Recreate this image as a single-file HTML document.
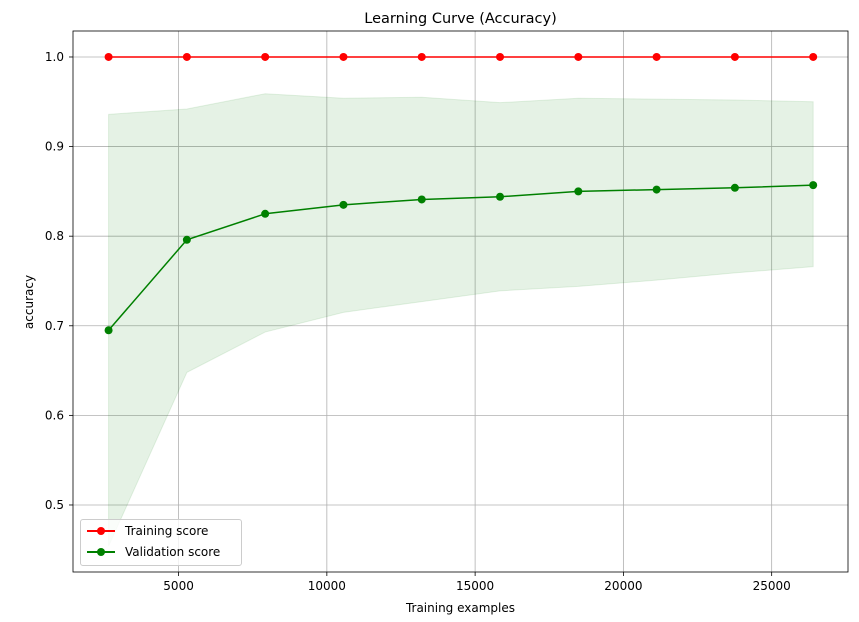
<!DOCTYPE html>
<html><head><meta charset="utf-8"><style>
body{margin:0;background:#fff;font-family:"Liberation Sans","DejaVu Sans",sans-serif}
svg text{font-family:"DejaVu Sans","Liberation Sans",sans-serif}
</style></head><body>
<svg id="c" width="859" height="617"></svg>
<script>
const trainSizes=[2640,5280,7920,10560,13200,15840,18480,21120,23760,26400];
const trainScore=[1,1,1,1,1,1,1,1,1,1];
const valScore=[0.695,0.796,0.825,0.835,0.841,0.844,0.850,0.852,0.854,0.857];
const valUpper=[0.936,0.942,0.959,0.954,0.955,0.949,0.954,0.953,0.952,0.950];
const valLower=[0.454,0.648,0.693,0.715,0.727,0.739,0.744,0.751,0.759,0.766];
const xTicks=[5000,10000,15000,20000,25000];
const yTicks=[0.5,0.6,0.7,0.8,0.9,1.0];
const L=73,R=848,T=31,B=572;
const xMin=1440,xMax=27574,yMin=0.4252,yMax=1.0290;
const X=v=>L+(v-xMin)/(xMax-xMin)*(R-L);
const Y=v=>B-(v-yMin)/(yMax-yMin)*(B-T);
const svg=document.getElementById('c');
const NS='http://www.w3.org/2000/svg';
function mk(tag,attrs,parent){const e=document.createElementNS(NS,tag);for(const k in attrs)e.setAttribute(k,attrs[k]);(parent||svg).appendChild(e);return e;}
xTicks.forEach(t=>{const l=mk('line',{x1:X(t),x2:X(t),y1:T,y2:B,stroke:'#b0b0b0','stroke-width':0.8});

});
yTicks.forEach(t=>{const l=mk('line',{x1:L,x2:R,y1:Y(t),y2:Y(t),stroke:'#b0b0b0','stroke-width':0.8});

});
let pts=trainSizes.map((s,i)=>X(s)+','+Y(valUpper[i]));
pts=pts.concat(trainSizes.slice().reverse().map((s,j)=>{const i=trainSizes.length-1-j;return X(s)+','+Y(valLower[i]);}));
const band=mk('polygon',{points:pts.join(' '),fill:'rgba(0,128,0,0.1)',stroke:'rgba(0,128,0,0.1)'});


function series(vals,color,name){
 const p=mk('polyline',{points:trainSizes.map((s,i)=>X(s)+','+Y(vals[i])).join(' '),fill:'none',stroke:color,'stroke-width':1.5});
 
 
 trainSizes.forEach((s,i)=>{const c=mk('circle',{cx:X(s),cy:Y(vals[i]),r:4,fill:color});
 
 });
}
series(trainScore,'#ff0000','training-score');
series(valScore,'#008000','validation-score');
const f=mk('rect',{x:L,y:T,width:R-L,height:B-T,fill:'none',stroke:'#000','stroke-width':0.8});


xTicks.forEach(t=>{mk('line',{x1:X(t),x2:X(t),y1:B,y2:B+4,stroke:'#000','stroke-width':0.8});
const tx=mk('text',{x:X(t),y:B+18,'text-anchor':'middle','font-size':12});tx.textContent=t;

});
yTicks.forEach(t=>{mk('line',{x1:L-4,x2:L,y1:Y(t),y2:Y(t),stroke:'#000','stroke-width':0.8});
const tx=mk('text',{x:L-9,y:Y(t)+4,'text-anchor':'end','font-size':12});tx.textContent=t.toFixed(1);

});
</script>
<div style="position:absolute;left:0;top:0;width:859px;height:617px;pointer-events:none">
<div style="position:absolute;left:0;width:921px;top:11px;text-align:center;font:14.5px 'DejaVu Sans',sans-serif">Learning Curve (Accuracy)</div>
<div style="position:absolute;left:0;width:921px;top:601px;text-align:center;font:12px 'DejaVu Sans',sans-serif">Training examples</div>
<div style="position:absolute;left:2px;top:295px;transform:rotate(-90deg);font:12px 'DejaVu Sans',sans-serif">accuracy</div>
<div style="position:absolute;left:80px;top:519px;width:160px;height:45px;border:1px solid #ccc;border-radius:3px;background:rgba(255,255,255,0.8);font:12px 'DejaVu Sans',sans-serif">
 <div style="position:absolute;left:6px;top:3px;height:16px;display:flex;align-items:center">
  <span style="position:relative;width:28px;height:2px;background:#f00;display:inline-block"><span style="position:absolute;left:10px;top:-3px;width:8px;height:8px;border-radius:50%;background:#f00"></span></span>
  <span style="margin-left:10px">Training score</span></div>
 <div style="position:absolute;left:6px;top:24px;height:16px;display:flex;align-items:center">
  <span style="position:relative;width:28px;height:2px;background:#008000;display:inline-block"><span style="position:absolute;left:10px;top:-3px;width:8px;height:8px;border-radius:50%;background:#008000"></span></span>
  <span style="margin-left:10px">Validation score</span></div>
</div>
</div>
</body></html>
